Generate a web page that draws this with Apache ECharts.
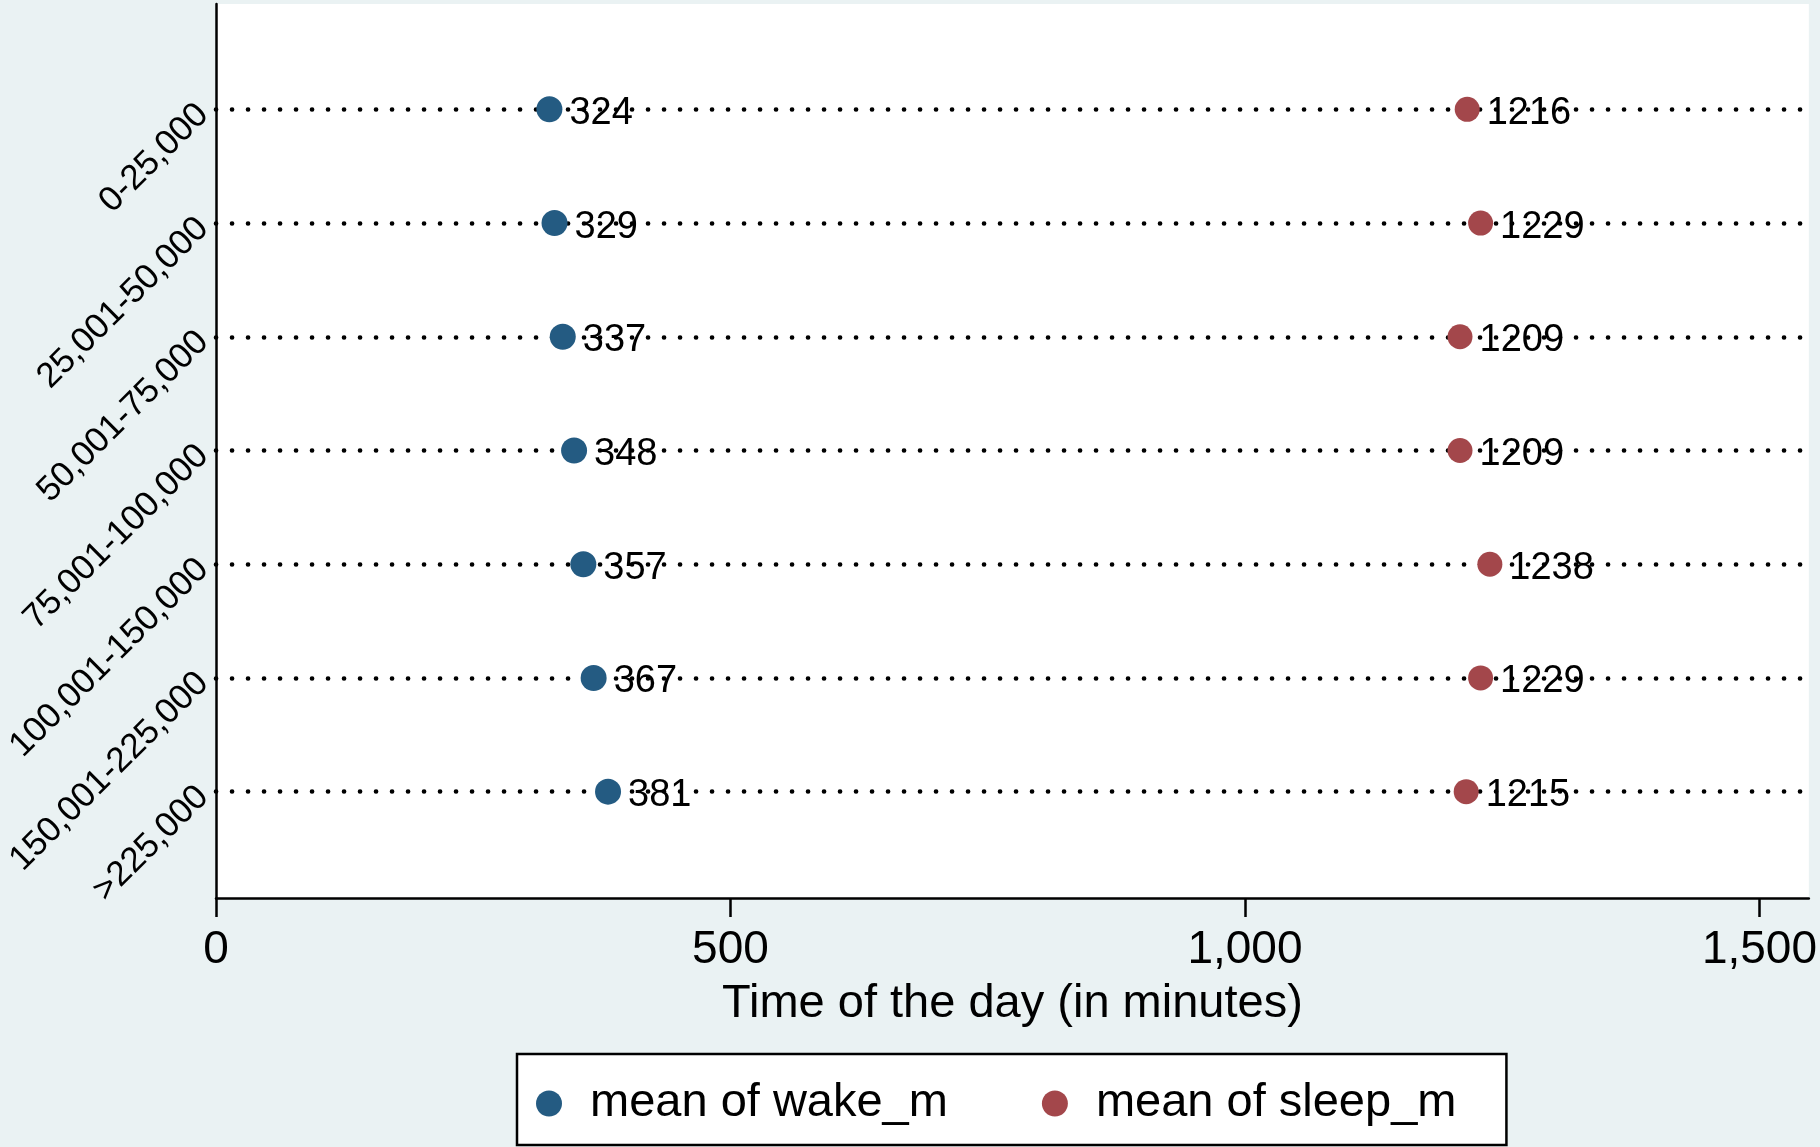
<!DOCTYPE html>
<html>
<head>
<meta charset="utf-8">
<script src="https://cdn.jsdelivr.net/npm/echarts@6/dist/echarts.min.js"></script>
<style>
html,body{margin:0;padding:0;background:#eaf2f3;}
#chart{width:1820px;height:1147px;}
</style>
</head>
<body>
<div id="chart"></div>
<script>
const categories = ['0-25,000','25,001-50,000','50,001-75,000','75,001-100,000','100,001-150,000','150,001-225,000','>225,000'];
const wakeValues = [324, 329, 337, 348, 357, 367, 381];
const sleepValues = [1216, 1229, 1209, 1209, 1238, 1229, 1215];
const xTicks = [0, 500, 1000, 1500];
const seriesNames = ['mean of wake_m', 'mean of sleep_m'];

const FONT = '"Liberation Sans", Arial, Helvetica, sans-serif';
const chart = echarts.init(document.getElementById('chart'), null, {renderer: 'canvas'});

const wakeData = wakeValues.map((v, i) => [v, i + 1]);
const sleepData = sleepValues.map((v, i) => [v, i + 1]);
const rowLines = categories.map((c, i) => ({yAxis: i + 1}));

const labelStyle = {
  show: true,
  position: 'right',
  distance: 7,
  offset: [0, 4],
  color: '#000',
  fontSize: 38,
  fontFamily: FONT,
  formatter: p => String(p.value[0])
};

chart.setOption({
  backgroundColor: '#eaf2f3',
  animation: false,
  textStyle: {fontFamily: FONT},
  grid: {
    left: 216, right: 10, top: 4, bottom: 249,
    show: true, backgroundColor: '#ffffff', borderWidth: 0
  },
  xAxis: {
    type: 'value',
    min: 0, max: 1548, interval: 500,
    name: 'Time of the day (in minutes)',
    nameLocation: 'middle',
    nameGap: 83,
    nameTextStyle: {fontSize: 47, color: '#000', fontFamily: FONT},
    axisLine: {show: true, lineStyle: {color: '#000', width: 2.5}},
    axisTick: {show: true, length: 19, lineStyle: {color: '#000', width: 2.5}, customValues: xTicks},
    axisLabel: {
      customValues: xTicks,
      fontSize: 46, color: '#000', margin: 29, fontFamily: FONT,
      formatter: v => Number(v).toLocaleString('en-US')
    },
    splitLine: {show: false}
  },
  yAxis: {
    type: 'value',
    inverse: true,
    min: 0.074, max: 7.935,
    axisLine: {show: true, onZero: false, lineStyle: {color: '#000', width: 2.5}},
    axisTick: {show: false},
    splitLine: {show: false},
    axisLabel: {
      customValues: categories.map((c, i) => i + 1),
      rotate: 45,
      margin: 13,
      fontSize: 35,
      color: '#000',
      fontFamily: FONT,
      formatter: v => categories[Math.round(v) - 1] || ''
    }
  },
  legend: {
    data: seriesNames,
    left: 517, top: 1054,
    orient: 'horizontal',
    icon: 'circle',
    itemWidth: 26, itemHeight: 26,
    itemGap: 94,
    padding: [26, 50, 18, 19],
    backgroundColor: '#ffffff',
    borderColor: '#000',
    borderWidth: 2.5,
    borderRadius: 0,
    selectedMode: false,
    textStyle: {fontSize: 47, color: '#000', fontFamily: FONT, padding: [0, 0, 0, 23]}
  },
  series: [
    {
      type: 'scatter',
      name: 'rows',
      data: [],
      silent: true,
      z: 1,
      markLine: {
        silent: true,
        z: 1,
        symbol: ['none', 'none'],
        label: {show: false},
        lineStyle: {color: '#000', width: 4.6, type: [0.1, 15.9], cap: 'round', opacity: 1},
        data: rowLines
      }
    },
    {
      type: 'scatter',
      name: seriesNames[0],
      data: wakeData,
      symbol: 'circle',
      symbolSize: 26,
      itemStyle: {color: '#245b82', opacity: 1},
      label: labelStyle,
      z: 3
    },
    {
      type: 'scatter',
      name: seriesNames[1],
      data: sleepData,
      symbol: 'circle',
      symbolSize: 25,
      itemStyle: {color: '#a3474b', opacity: 1},
      label: labelStyle,
      z: 3
    }
  ]
});
</script>
</body>
</html>
